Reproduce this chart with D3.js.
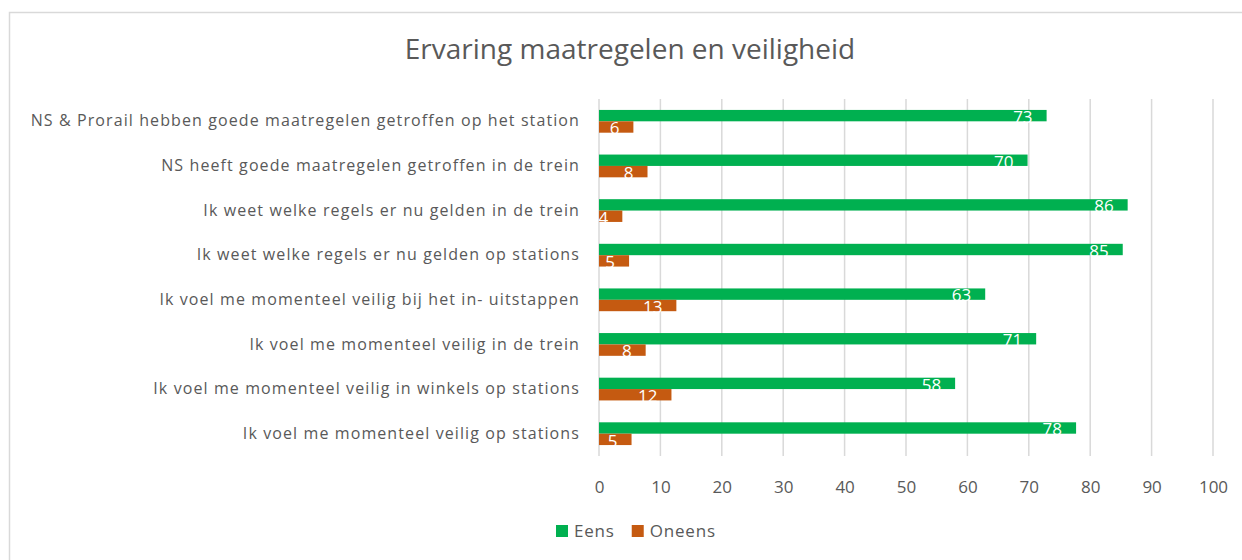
<!DOCTYPE html>
<html lang="nl">
<head>
<meta charset="utf-8">
<script src="https://d3js.org/d3.v7.min.js"></script>
<style>
  body { margin: 0; background: #fff; }
  text { font-family: "Open Sans", sans-serif; }
</style>
</head>
<body>
<svg id="chart" width="1242" height="560"></svg>
<script>
// data
var categories = [
  "NS & Prorail hebben goede maatregelen getroffen op het station",
  "NS heeft goede maatregelen getroffen in de trein",
  "Ik weet welke regels er nu gelden in de trein",
  "Ik weet welke regels er nu gelden op stations",
  "Ik voel me momenteel veilig bij het in- uitstappen",
  "Ik voel me momenteel veilig in de trein",
  "Ik voel me momenteel veilig in winkels op stations",
  "Ik voel me momenteel veilig op stations"
];
var eens   = [72.9, 69.8, 86.1, 85.3, 62.9, 71.2, 58.0, 77.7];
var oneens = [5.6, 7.9, 3.8, 4.9, 12.6, 7.6, 11.8, 5.3];
var seriesNames = ["Eens", "Oneens"];
var seriesColors = ["#00B050", "#C55A11"];
var xTicks = [0, 10, 20, 30, 40, 50, 60, 70, 80, 90, 100];

var svg = d3.select("#chart");
var textColor = "#595959";

// outer chart frame
svg.append("rect")
  .attr("x", 9.5).attr("y", 12.5)
  .attr("width", 1300).attr("height", 600)
  .attr("fill", "none")
  .attr("stroke", "#d9d9d9")
  .attr("stroke-width", 1.5);

var x = d3.scaleLinear().domain([0, 100]).range([599, 1213]);
var y = d3.scaleBand().domain(categories).range([99, 456]).padding(0);

var barH = y.bandwidth() * 0.255;

// gridlines
svg.append("g")
  .selectAll("line")
  .data(xTicks)
  .enter().append("line")
  .attr("x1", function (d) { return x(d); })
  .attr("x2", function (d) { return x(d); })
  .attr("y1", 99).attr("y2", 456)
  .attr("stroke", "#d9d9d9")
  .attr("stroke-width", 1.5);

// x axis labels
var xAxis = d3.axisBottom(x).tickValues(xTicks).tickSize(0).tickPadding(0);
var xg = svg.append("g").attr("transform", "translate(0,478)").call(xAxis);
xg.select(".domain").remove();
xg.selectAll("text")
  .attr("fill", textColor)
  .style("font-size", "17px")
  .attr("dy", "0.9em");

// category labels (Excel spreads the letters a bit)
var yAxis = d3.axisLeft(y).tickSize(0).tickPadding(0);
var yg = svg.append("g").attr("transform", "translate(580,0)").call(yAxis);
yg.select(".domain").remove();
yg.selectAll("text")
  .attr("fill", textColor)
  .style("font-size", "16px")
  .style("letter-spacing", "1.1px")
  .attr("dy", "0.32em");

// bars
var series = [eens, oneens];
series.forEach(function (vals, si) {
  var g = svg.append("g");
  g.selectAll("rect")
    .data(vals)
    .enter().append("rect")
    .attr("x", x(0))
    .attr("y", function (d, i) { return y(categories[i]) + y.bandwidth() / 2 - barH + si * barH; })
    .attr("width", function (d) { return x(d) - x(0); })
    .attr("height", barH)
    .attr("fill", seriesColors[si]);

  // value labels, white, clipped to the bar like the original
  g.selectAll("text")
    .data(vals)
    .enter().append("text")
    .attr("x", function (d) { return x(d) - 14; })
    .attr("y", function (d, i) { return y(categories[i]) + y.bandwidth() / 2 - barH + si * barH + 13; })
    .attr("text-anchor", "end")
    .attr("fill", "#ffffff")
    .style("font-size", "17px")
    .text(function (d) { return d3.format(".0f")(d); });
});

// title
svg.append("text")
  .attr("x", 630).attr("y", 59)
  .attr("text-anchor", "middle")
  .attr("fill", textColor)
  .style("font-size", "28px")
  .text("Ervaring maatregelen en veiligheid");

// legend
var legend = svg.append("g").attr("transform", "translate(556,531)");
var lx = 0;
seriesNames.forEach(function (name, i) {
  legend.append("rect")
    .attr("x", lx).attr("y", -6)
    .attr("width", 12).attr("height", 12)
    .attr("fill", seriesColors[i]);
  var t = legend.append("text")
    .attr("x", lx + 18).attr("y", 0)
    .attr("dy", "0.35em")
    .attr("fill", textColor)
    .style("font-size", "17px")
    .style("letter-spacing", "0.8px")
    .text(name);
  lx += 18 + t.node().getComputedTextLength() + 17;
});
</script>
</body>
</html>
